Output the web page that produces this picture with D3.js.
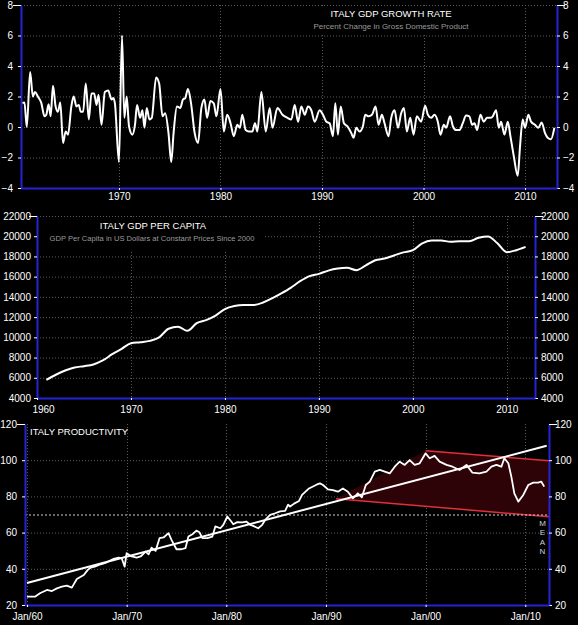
<!DOCTYPE html>
<html>
<head>
<meta charset="utf-8">
<script src="https://cdnjs.cloudflare.com/ajax/libs/d3/7.8.5/d3.min.js"></script>
<style>
    body { margin: 0; background: #000; }
    svg { display: block; }
</style>
</head>
<body>
<div id="chart"></div>
<script>
// growth rate, quarterly % change
var growthYears = [1960.46, 1960.69, 1960.92, 1961.25, 1961.52, 1961.72, 1962.01, 1962.34, 1962.67, 1962.84,
    1963.07, 1963.27, 1963.5, 1963.76, 1963.99, 1964.22, 1964.49, 1964.75, 1964.98, 1965.31,
    1965.54, 1965.81, 1966.04, 1966.24, 1966.47, 1966.73, 1967.03, 1967.29, 1967.56, 1967.79,
    1967.99, 1968.28, 1968.61, 1968.94, 1969.27, 1969.44, 1969.6, 1970.0, 1970.3, 1970.53,
    1970.76, 1970.99, 1971.32, 1971.58, 1971.78, 1972.08, 1972.31, 1972.51, 1972.74, 1973.0,
    1973.23, 1973.66, 1973.96, 1974.29, 1974.55, 1974.88, 1975.15, 1975.38, 1975.71, 1976.04,
    1976.3, 1976.53, 1976.8, 1977.1, 1977.46, 1977.79, 1978.12, 1978.42, 1978.68, 1979.01,
    1979.34, 1979.6, 1980.0, 1980.33, 1980.66, 1980.99, 1981.32, 1981.65, 1981.91, 1982.15,
    1982.48, 1982.81, 1983.14, 1983.4, 1983.63, 1984.03, 1984.46, 1984.85, 1985.12, 1985.61,
    1986.11, 1986.6,
    1986.98, 1987.31, 1987.64, 1987.97, 1988.3, 1988.62, 1988.95, 1989.28, 1989.77, 1990.1,
    1990.43, 1990.75, 1991.08, 1991.31, 1991.57, 1991.84, 1992.16, 1992.49, 1992.89, 1993.11,
    1993.38, 1993.7, 1994.03, 1994.26, 1994.59, 1994.92, 1995.28, 1995.57, 1995.9, 1996.16,
    1996.56, 1996.82, 1997.15, 1997.48, 1997.8, 1998.07, 1998.36, 1998.69, 1999.02, 1999.34,
    1999.77, 2000.16, 2000.43, 2000.75, 2001.08, 2001.41, 2001.67, 2002.0, 2002.23, 2002.62,
    2002.89, 2003.21, 2003.54, 2003.87, 2004.2, 2004.52, 2004.79, 2005.02, 2005.28, 2005.61,
    2005.93, 2006.26, 2006.59, 2006.82, 2007.15, 2007.41, 2007.64, 2007.97, 2008.3, 2008.56,
    2008.89, 2009.28, 2009.51, 2009.77, 2010.0, 2010.33, 2010.59, 2010.98, 2011.31, 2011.64,
    2011.97, 2012.23, 2012.56, 2012.89];
var growthValues = [1.57, 1.6, 0.0, 3.6, 2.0, 2.3, 2.0, 1.6, 0.7, 0.8,
    1.5, 0.7, 2.7, 1.35, 1.0, 1.6, -1.05, -0.3, -0.5, 1.35,
    2.0, 1.35, 1.45, 1.0, 1.0, 2.85, 0.5, 2.2, 2.2, 1.45,
    2.1, 0.15, 2.3, 2.4, 1.8, 1.9, 1.55, -2.3, 6.0, 0.6,
    2.0, 0.05, -0.5, 0.15, 1.45, 0.6, 1.1, -0.05, 1.25, 0.5,
    0.6, 3.25, 2.85, 0.7, 0.9, -0.4, -2.3, -0.4, 1.35, 1.25,
    1.8, 1.9, 2.5, 1.55, -0.4, -1.05, 1.25, 1.8, 0.6, 1.7,
    1.55, 0.7, 2.5, -0.3, 0.8, 0.25, -0.6, 0.15, -0.05, 0.8,
    -0.2, -0.3, -0.3, 0.25, -0.3, 2.3, -0.3, 1.25, -0.05, 1.25,
    0.8, 0.6,
    0.5, 1.45, 0.35, 1.35, 0.8, 1.35, 1.1, 0.35, 1.1, 0.8,
    0.35, 0.25, -0.6, 1.55, -0.5, 1.35, 0.25, 0.05, -0.4, -0.7,
    -0.05, -0.3, 0.05, 0.8, 0.7, 0.8, 1.35, 0.15, 0.8, 0.25,
    -0.6, 0.6, 1.1, -0.05, 0.9, 1.25, -0.3, 0.6, -0.5, 0.7,
    0.35, 1.4, 0.8, 0.6, 0.8, 0.35, -0.5, 0.15, -0.05, 0.7,
    0.05, -0.2, -0.2, 0.25, 0.75, 0.7, 0.15, 0.25, -0.2, 0.8,
    0.35, 0.6, 0.6, 0.7, 1.1, -0.05, 0.35, -0.5, 0.35, -0.6,
    -1.9, -3.2, -1.25, 0.5, -0.05, 0.8, 0.35, 0.15, -0.05, 0.3,
    -0.4, -0.7, -0.8, -0.05];

// GDP per capita, yearly, US$ at constant 2000 prices
var gdpYears = [1961, 1962, 1963, 1964, 1965, 1966, 1967, 1968, 1969, 1970,
    1971, 1972, 1973, 1974, 1975, 1976, 1977, 1978, 1979, 1980,
    1981, 1982, 1983, 1984, 1985, 1986, 1987, 1988, 1989, 1990,
    1991, 1992, 1993, 1994, 1995, 1996, 1997, 1998, 1999, 2000,
    2001, 2002, 2003, 2004, 2005, 2006, 2007, 2008, 2009, 2010,
    2011, 2012];
var gdpValues = [5800, 6300, 6720, 7020, 7150, 7320, 7710, 8330, 8860, 9420,
    9520, 9650, 10000, 10850, 11050, 10650, 11400, 11700, 12150, 12800,
    13100, 13200, 13200, 13420, 13850, 14350, 14900, 15550, 16050, 16280,
    16600, 16800, 16880, 16640, 17120, 17620, 17800, 18100, 18400, 18620,
    19300, 19570, 19580, 19450, 19500, 19500, 19850, 19980, 19300, 18420,
    18620, 18950];

// productivity index
var prodYears = [1960.0, 1960.8, 1961.3, 1962.0, 1962.5, 1963.0, 1963.5, 1964.0, 1964.5, 1965.0,
    1965.7, 1966.1, 1966.4, 1966.8, 1967.4, 1968.0, 1968.7, 1969.2, 1969.5, 1969.8,
    1970.0, 1970.5, 1971.0, 1971.4, 1971.9, 1972.2, 1972.5, 1972.9, 1973.3, 1973.7,
    1974.2, 1974.5, 1975.0, 1975.5, 1975.9, 1976.2, 1976.6, 1977.0, 1977.3, 1977.6,
    1978.1, 1978.6, 1978.9, 1979.4, 1979.7, 1980.1, 1980.5, 1980.7, 1981.1, 1981.6,
    1982.0, 1982.4, 1982.7, 1983.2, 1983.6, 1983.9, 1984.4, 1984.9, 1985.4, 1985.9,
    1986.2, 1986.4, 1986.8, 1987.3, 1987.6, 1988.3, 1989.1, 1989.4, 1989.7, 1990.2,
    1990.7, 1991.2, 1991.7, 1992.2, 1992.7, 1993.2, 1993.6, 1994.0, 1994.4, 1994.9,
    1995.4, 1995.9, 1996.4, 1996.9, 1997.4, 1997.9, 1998.4, 1998.9, 1999.4, 2000.0,
    2000.4, 2000.9, 2001.4, 2002.1, 2002.7, 2003.4, 2004.1, 2004.7, 2005.4, 2006.1,
    2006.6, 2007.1, 2007.6, 2007.9, 2008.3, 2008.6, 2008.9, 2009.3, 2009.8, 2010.3,
    2010.8, 2011.3, 2011.6, 2011.9];
var prodValues = [24.6, 24.6, 26.5, 28.3, 27.7, 29.2, 30.1, 30.7, 29.6, 34.4,
    36.6, 39.4, 40.7, 41.2, 42.5, 43.6, 45.5, 46.2, 45.8, 41.2,
    48.6, 46.8, 46.2, 46.8, 49.5, 48.0, 51.7, 49.9, 56.9, 57.3,
    59.7, 56.0, 50.8, 50.8, 51.4, 57.8, 59.1, 61.1, 60.2, 56.9,
    56.9, 57.8, 63.4, 62.4, 64.3, 68.9, 66.1, 64.6, 65.8, 65.6,
    66.1, 64.3, 63.7, 62.4, 64.3, 67.0, 69.8, 70.7, 71.7, 72.0,
    75.4, 74.4, 76.0, 77.5, 80.8, 84.4, 86.6, 87.2, 86.3, 83.9,
    83.5, 82.6, 84.4, 82.6, 78.9, 81.7, 79.5, 86.3, 88.2, 93.7,
    94.6, 93.7, 92.7, 96.4, 99.2, 97.4, 100.1, 97.4, 98.3, 103.8,
    101.1, 102.4, 99.2, 97.4, 96.4, 94.6, 97.4, 93.1, 92.7, 93.7,
    96.4, 97.4, 96.4, 101.1, 98.3, 90.9, 81.7, 77.1, 80.8, 86.3,
    87.6, 87.6, 88.2, 85.4];
var prodMean = 70;
var trendYears = [1960.0, 2012.15];
var trendValues = [32.2, 108.0];
var upperYears = [2000.0, 2012.38];
var upperValues = [105.2, 99.7];
var lowerYears = [1991.0, 2012.38];
var lowerValues = [78.7, 68.8];

// tick labels
var growthYTicks = [-4, -2, 0, 2, 4, 6, 8];
var growthXTicks = [1970, 1980, 1990, 2000, 2010];
var gdpYTicks = [4000, 6000, 8000, 10000, 12000, 14000, 16000, 18000, 20000, 22000];
var gdpXTicks = [1960, 1970, 1980, 1990, 2000, 2010];
var prodYTicks = [20, 40, 60, 80, 100, 120];
var prodXTicks = [1960, 1970, 1980, 1990, 2000, 2010];

var axisBlue = "#2424d6";
var gridGrey = "#5a5a5a";
var fontFamily = "'Liberation Sans', Arial, sans-serif";

var svg = d3.select("#chart")
    .append("svg")
    .attr("width", 578)
    .attr("height", 625)
    .style("background", "#000");

svg.append("rect").attr("width", 578).attr("height", 625).attr("fill", "#000");

function drawGrid(x, y, xTicks, yTicks, left, right, top, bottom) {
    var g = svg.append("g");
    g.selectAll("line.h")
        .data(yTicks)
        .enter()
        .append("line")
        .attr("x1", left).attr("x2", right)
        .attr("y1", function (d) { return y(d) + 0.5; })
        .attr("y2", function (d) { return y(d) + 0.5; })
        .attr("stroke", gridGrey)
        .attr("stroke-dasharray", "1,2");
    g.selectAll("line.v")
        .data(xTicks)
        .enter()
        .append("line")
        .attr("x1", function (d) { return Math.round(x(d)) + 0.5; })
        .attr("x2", function (d) { return Math.round(x(d)) + 0.5; })
        .attr("y1", top).attr("y2", bottom)
        .attr("stroke", gridGrey)
        .attr("stroke-dasharray", "1,2");
}

function styleAxis(g, topTick, len) {
    g.select(".domain").attr("stroke", axisBlue).attr("stroke-width", 2);
    g.selectAll(".tick line").attr("stroke", "#fff");
    g.selectAll(".tick text")
        .attr("fill", "#fff")
        .style("font-family", fontFamily)
        .style("font-size", "10px");
    if (topTick !== undefined) {
        g.selectAll(".tick").filter(function (d) { return d === topTick; })
            .select("line").attr("x2", len);
    }
}

function drawAxes(x, y, xTicks, yTicks, xFormat, left, right, bottom, padL, padR, padB) {
    var top = yTicks[yTicks.length - 1];
    var gl = svg.append("g")
        .attr("transform", "translate(" + left + ",0)")
        .call(d3.axisLeft(y).tickValues(yTicks).tickSize(3).tickSizeOuter(0)
            .tickPadding(padL).tickFormat(d3.format("d")));
    styleAxis(gl, top, -8);
    var gr = svg.append("g")
        .attr("transform", "translate(" + right + ",0)")
        .call(d3.axisRight(y).tickValues(yTicks).tickSize(3).tickSizeOuter(0)
            .tickPadding(padR).tickFormat(d3.format("d")));
    styleAxis(gr, top, 8);
    var gb = svg.append("g")
        .attr("transform", "translate(0," + bottom + ")")
        .call(d3.axisBottom(x).tickValues(xTicks).tickSize(2).tickSizeOuter(0)
            .tickPadding(padB).tickFormat(xFormat));
    styleAxis(gb);
    return gb;
}

var line = function (x, y, curve) {
    return d3.line()
        .x(function (d) { return x(d[0]); })
        .y(function (d) { return y(d[1]); })
        .curve(curve);
};

// ---------- panel 1 : growth rate ----------
var x1 = d3.scaleLinear().domain([1960.35, 2013.15]).range([21, 557]);
var y1 = d3.scaleLinear().domain([-4, 8]).range([188, 5]);

drawGrid(x1, y1, growthXTicks, growthYTicks, 21, 557, 5, 188);

// title block hides the grid behind it
svg.append("rect").attr("x", 306).attr("y", 7).attr("width", 172).attr("height", 27).attr("fill", "#000");
svg.append("text")
    .attr("x", 391).attr("y", 16.5)
    .attr("text-anchor", "middle")
    .attr("fill", "#fff")
    .style("font-family", fontFamily).style("font-size", "9.5px")
    .text("ITALY GDP GROWTH RATE");
svg.append("text")
    .attr("x", 391).attr("y", 29)
    .attr("text-anchor", "middle")
    .attr("fill", "#9a9a9a")
    .style("font-family", fontFamily).style("font-size", "8px")
    .text("Percent Change in Gross Domestic Product");

svg.append("path")
    .datum(d3.zip(growthYears, growthValues))
    .attr("fill", "none")
    .attr("stroke", "#fff")
    .attr("stroke-width", 2)
    .attr("stroke-linejoin", "round")
    .attr("d", line(x1, y1, d3.curveMonotoneX));

drawAxes(x1, y1, growthXTicks, growthYTicks, d3.format("d"), 21, 557, 188, 5, 3, 3);

// ---------- panel 2 : GDP per capita ----------
var x2 = d3.scaleLinear().domain([1960, 2013]).range([37, 535]);
var y2 = d3.scaleLinear().domain([4000, 22000]).range([398, 216]);

drawGrid(x2, y2, gdpXTicks.slice(1), gdpYTicks, 37, 535, 216, 398);

svg.append("rect").attr("x", 39).attr("y", 218).attr("width", 226).attr("height", 34).attr("fill", "#000");
svg.append("text")
    .attr("x", 153).attr("y", 229)
    .attr("text-anchor", "middle")
    .attr("fill", "#fff")
    .style("font-family", fontFamily).style("font-size", "9.5px")
    .text("ITALY GDP PER CAPITA");
svg.append("text")
    .attr("x", 152).attr("y", 241)
    .attr("text-anchor", "middle")
    .attr("fill", "#9a9a9a")
    .style("font-family", fontFamily).style("font-size", "7.6px")
    .text("GDP Per Capita in US Dollars at Constant Prices Since 2000");

svg.append("path")
    .datum(d3.zip(gdpYears, gdpValues))
    .attr("fill", "none")
    .attr("stroke", "#fff")
    .attr("stroke-width", 2)
    .attr("d", line(x2, y2, d3.curveMonotoneX));

var gb2 = drawAxes(x2, y2, gdpXTicks, gdpYTicks, d3.format("d"), 37, 535, 398, 3, 3, 6);
gb2.selectAll(".tick").filter(function (d) { return d === 1960; })
    .select("text").attr("dx", 6);

// ---------- panel 3 : productivity ----------
var x3 = d3.scaleLinear().domain([1959.8, 2012.38]).range([25, 549]);
var y3 = d3.scaleLinear().domain([20, 120]).range([605, 424]);

drawGrid(x3, y3, prodXTicks, prodYTicks.slice(1, -1), 25, 549, 424, 605);

// channel between the two red lines
var channel = [
    [lowerYears[0], lowerValues[0]],
    [upperYears[0], upperValues[0]],
    [upperYears[1], upperValues[1]],
    [lowerYears[1], lowerValues[1]]
];
var straight = line(x3, y3, d3.curveLinear);
svg.append("path")
    .datum(channel)
    .attr("fill", "#2e0308")
    .attr("d", function (d) { return straight(d) + "Z"; });

svg.append("path")
    .datum(d3.zip(upperYears, upperValues))
    .attr("fill", "none")
    .attr("stroke", "#e0303a")
    .attr("stroke-width", 1.5)
    .attr("d", straight);
svg.append("path")
    .datum(d3.zip(lowerYears, lowerValues))
    .attr("fill", "none")
    .attr("stroke", "#e0303a")
    .attr("stroke-width", 1.5)
    .attr("d", straight);

// mean line
svg.append("line")
    .attr("x1", 25).attr("x2", 549)
    .attr("y1", y3(prodMean) + 0.5).attr("y2", y3(prodMean) + 0.5)
    .attr("stroke", "#cfcfcf")
    .attr("stroke-dasharray", "2,2");
svg.selectAll("text.mean")
    .data("MEAN".split(""))
    .enter()
    .append("text")
    .attr("x", 542.5)
    .attr("y", function (d, i) { return y3(prodMean) + 11 + i * 9.6; })
    .attr("text-anchor", "middle")
    .attr("fill", "#cfcfcf")
    .style("font-family", fontFamily).style("font-size", "8px")
    .text(function (d) { return d; });

svg.append("path")
    .datum(d3.zip(trendYears, trendValues))
    .attr("fill", "none")
    .attr("stroke", "#fff")
    .attr("stroke-width", 2)
    .attr("d", straight);

svg.append("path")
    .datum(d3.zip(prodYears, prodValues))
    .attr("fill", "none")
    .attr("stroke", "#fff")
    .attr("stroke-width", 1.8)
    .attr("stroke-linejoin", "round")
    .attr("d", straight);

svg.append("text")
    .attr("x", 30).attr("y", 434.5)
    .attr("fill", "#fff")
    .style("font-family", fontFamily).style("font-size", "9.5px")
    .text("ITALY PRODUCTIVITY");

drawAxes(x3, y3, prodXTicks, prodYTicks, function (d) { return "Jan/" + String(d).slice(2); },
    25, 549, 605, 5, 3, 6);
</script>
</body>
</html>
